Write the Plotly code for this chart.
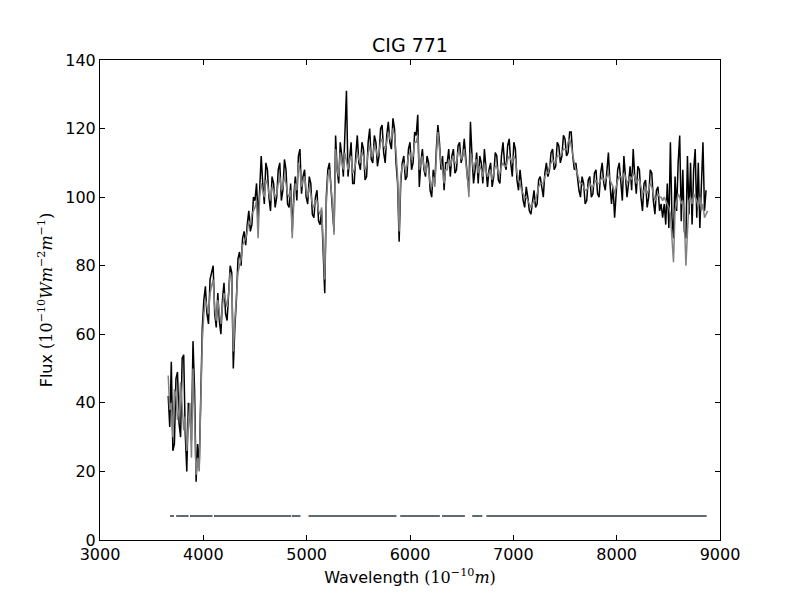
import plotly.graph_objects as go

# wavelength grid (Angstrom), 15 A steps
wavelength = [
    3660, 3675, 3690, 3705, 3720, 3735, 3750, 3765, 3780, 3795, 3810, 3825, 3840, 3855, 3870, 3885, 3900, 3915, 3930, 3945,
    3960, 3975, 3990, 4005, 4020, 4035, 4050, 4065, 4080, 4095, 4110, 4125, 4140, 4155, 4170, 4185, 4200, 4215, 4230, 4245,
    4260, 4275, 4290, 4305, 4320, 4335, 4350, 4365, 4380, 4395, 4410, 4425, 4440, 4455, 4470, 4485, 4500, 4515, 4530, 4545,
    4560, 4575, 4590, 4605, 4620, 4635, 4650, 4665, 4680, 4695, 4710, 4725, 4740, 4755, 4770, 4785, 4800, 4815, 4830, 4845,
    4860, 4875, 4890, 4905, 4920, 4935, 4950, 4965, 4980, 4995, 5010, 5025, 5040, 5055, 5070, 5085, 5100, 5115, 5130, 5145,
    5160, 5175, 5190, 5205, 5220, 5235, 5250, 5265, 5280, 5295, 5310, 5325, 5340, 5355, 5370, 5385, 5400, 5415, 5430, 5445,
    5460, 5475, 5490, 5505, 5520, 5535, 5550, 5565, 5580, 5595, 5610, 5625, 5640, 5655, 5670, 5685, 5700, 5715, 5730, 5745,
    5760, 5775, 5790, 5805, 5820, 5835, 5850, 5865, 5880, 5895, 5910, 5925, 5940, 5955, 5970, 5985, 6000, 6015, 6030, 6045,
    6060, 6075, 6090, 6105, 6120, 6135, 6150, 6165, 6180, 6195, 6210, 6225, 6240, 6255, 6270, 6285, 6300, 6315, 6330, 6345,
    6360, 6375, 6390, 6405, 6420, 6435, 6450, 6465, 6480, 6495, 6510, 6525, 6540, 6555, 6570, 6585, 6600, 6615, 6630, 6645,
    6660, 6675, 6690, 6705, 6720, 6735, 6750, 6765, 6780, 6795, 6810, 6825, 6840, 6855, 6870, 6885, 6900, 6915, 6930, 6945,
    6960, 6975, 6990, 7005, 7020, 7035, 7050, 7065, 7080, 7095, 7110, 7125, 7140, 7155, 7170, 7185, 7200, 7215, 7230, 7245,
    7260, 7275, 7290, 7305, 7320, 7335, 7350, 7365, 7380, 7395, 7410, 7425, 7440, 7455, 7470, 7485, 7500, 7515, 7530, 7545,
    7560, 7575, 7590, 7605, 7620, 7635, 7650, 7665, 7680, 7695, 7710, 7725, 7740, 7755, 7770, 7785, 7800, 7815, 7830, 7845,
    7860, 7875, 7890, 7905, 7920, 7935, 7950, 7965, 7980, 7995, 8010, 8025, 8040, 8055, 8070, 8085, 8100, 8115, 8130, 8145,
    8160, 8175, 8190, 8205, 8220, 8235, 8250, 8265, 8280, 8295, 8310, 8325, 8340, 8355, 8370, 8385, 8400, 8415, 8430, 8445,
    8460, 8475, 8490, 8505, 8520, 8535, 8550, 8565, 8580, 8595, 8610, 8625, 8640, 8655, 8670, 8685, 8700, 8715, 8730, 8745,
    8760, 8775, 8790, 8805, 8820, 8835, 8850, 8865, 8880,
]

# observed spectrum (black)
flux_obs = [
    42, 33, 52, 26, 28, 47, 49, 34, 30, 53, 54, 31, 20, 40, 36, 29, 58, 44, 17, 28,
    21, 45, 62, 70, 74, 66, 63, 76, 78, 80, 66, 62, 72, 64, 60, 70, 75, 66, 64, 74,
    80, 78, 50, 62, 70, 82, 84, 80, 88, 90, 86, 92, 96, 90, 92, 100, 99, 104, 94, 102,
    112, 104, 98, 110, 108, 100, 96, 106, 104, 97, 100, 108, 110, 99, 102, 111, 108, 98, 97, 104,
    90, 100, 106, 99, 112, 114, 101, 106, 108, 100, 98, 106, 104, 95, 94, 100, 102, 93, 92, 96,
    86, 72, 100, 108, 110, 102, 96, 90, 118, 108, 104, 116, 112, 106, 120, 131, 106, 112, 116, 104,
    104, 112, 118, 110, 108, 116, 114, 105, 106, 116, 120, 111, 110, 118, 116, 109, 112, 120, 121, 113,
    110, 118, 122, 116, 114, 123, 120, 110, 104, 87, 104, 110, 112, 105, 106, 114, 116, 108, 110, 119,
    118, 124, 103, 110, 114, 108, 106, 112, 110, 102, 100, 108, 104, 114, 121, 116, 108, 112, 102, 110,
    110, 114, 106, 112, 114, 107, 108, 115, 116, 110, 112, 117, 110, 106, 102, 122, 112, 104, 108, 113,
    104, 112, 110, 104, 114, 109, 103, 108, 110, 103, 106, 113, 112, 105, 104, 112, 116, 110, 108, 115,
    117, 110, 106, 116, 114, 105, 102, 108, 104, 99, 97, 103, 100, 96, 95, 99, 102, 97, 98, 105,
    106, 103, 100, 107, 110, 106, 108, 113, 114, 108, 109, 116, 115, 110, 112, 118, 117, 112, 113, 119,
    119, 112, 108, 110, 106, 102, 100, 106, 104, 98, 99, 105, 106, 100, 101, 107, 108, 101, 100, 107,
    110, 104, 102, 108, 113, 104, 98, 103, 94, 101, 108, 110, 104, 99, 112, 106, 100, 104, 109, 102,
    114, 106, 101, 109, 108, 100, 96, 104, 105, 97, 100, 108, 107, 99, 95, 102, 103, 96, 98, 94,
    98, 92, 104, 91, 116, 94, 88, 106, 96, 110, 118, 93, 108, 90, 88, 112, 95, 110, 92, 108,
    114, 94, 110, 91, 104, 116, 96, 102, None,
]

# model fit (grey)
flux_fit = [
    48, 38, 40, 30, 44, 42, 35, 38, 46, 40, 32, 36, 26, 34, 40, 24, 50, 36, 19, 24,
    20, 40, 58, 66, 70, 68, 66, 72, 74, 76, 68, 64, 70, 66, 63, 68, 72, 70, 68, 72,
    78, 76, 55, 64, 72, 78, 80, 82, 86, 87, 88, 90, 93, 92, 95, 96, 97, 99, 88, 100,
    104, 102, 100, 105, 104, 101, 99, 103, 102, 100, 101, 104, 106, 102, 103, 106, 104, 101, 100, 102,
    88, 98, 104, 102, 110, 108, 103, 105, 106, 102, 100, 103, 101, 98, 97, 99, 99, 96, 95, 97,
    88, 76, 98, 106, 108, 103, 98, 89, 114, 108, 106, 113, 110, 108, 113, 110, 108, 111, 112, 107,
    108, 110, 113, 111, 110, 113, 112, 108, 109, 113, 115, 112, 112, 115, 114, 112, 113, 116, 117, 115,
    114, 116, 119, 117, 117, 120, 118, 113, 106, 90, 106, 109, 110, 108, 109, 112, 113, 111, 112, 116,
    116, 118, 108, 110, 112, 109, 107, 110, 108, 104, 103, 106, 103, 112, 119, 114, 110, 108, 104, 108,
    108, 111, 109, 111, 112, 110, 110, 113, 113, 111, 112, 114, 110, 106, 100, 113, 111, 108, 110, 111,
    107, 109, 108, 106, 110, 108, 106, 107, 108, 105, 107, 109, 109, 107, 107, 109, 110, 109, 109, 111,
    112, 111, 110, 112, 111, 107, 105, 104, 102, 101, 100, 100, 99, 98, 97, 98, 99, 99, 101, 103,
    104, 104, 104, 106, 107, 107, 109, 110, 111, 110, 110, 112, 112, 112, 113, 114, 114, 114, 116, 117,
    115, 112, 110, 108, 107, 105, 104, 104, 103, 102, 102, 103, 104, 103, 103, 104, 105, 104, 104, 105,
    106, 105, 105, 106, 107, 105, 104, 103, 101, 103, 105, 106, 106, 105, 107, 106, 104, 105, 106, 105,
    107, 106, 104, 105, 105, 103, 101, 102, 103, 101, 102, 104, 103, 101, 99, 100, 101, 100, 100, 99,
    100, 99, 98, 97, 95, 86, 81, 96, 99, 101, 100, 98, 99, 94, 80, 92, 99, 100, 98, 101,
    100, 99, 97, 100, 96, 98, 94, 95, 96,
]

# fitted wavelength windows, drawn as a flat line near the bottom
mask_start = [3677, 3737, 3871, 4103, 4856, 5018, 5905, 6310, 6602, 6739]
mask_end = [3716, 3857, 4089, 4849, 4940, 5869, 6289, 6531, 6700, 8871]
mask_level = 7

mask_x, mask_y = [], []
for a, b in zip(mask_start, mask_end):
    mask_x += [a, b, None]
    mask_y += [mask_level, mask_level, None]

fig = go.Figure()
fig.add_trace(go.Scatter(x=wavelength, y=flux_obs, mode="lines",
                         line=dict(color="black", width=1.5)))
fig.add_trace(go.Scatter(x=wavelength, y=flux_fit, mode="lines",
                         line=dict(color="#808080", width=1.5)))
fig.add_trace(go.Scatter(x=mask_x, y=mask_y, mode="lines",
                         line=dict(color="#5f6b72", width=2)))

axis_style = dict(
    showline=True, linecolor="black", linewidth=1, mirror="ticks",
    ticks="inside", ticklen=5, tickcolor="black", showgrid=False,
    zeroline=False, tickfont=dict(size=16, color="black"),
)
fig.update_xaxes(range=[3000, 9000], dtick=1000, **axis_style,
                 title=dict(text="Wavelength <span style='font-family:DejaVu Serif'>(10<sup>−10</sup><i>m</i>)</span>",
                            font=dict(size=16, color="black"), standoff=8))
fig.update_yaxes(range=[0, 140], dtick=20, **axis_style,
                 title=dict(text="Flux <span style='font-family:DejaVu Serif'>(10<sup>−10</sup><i>Wm</i><sup>−2</sup><i>m</i><sup>−1</sup>)</span>",
                            font=dict(size=16, color="black"), standoff=8))
# the page adds an 8 px body margin, so the plot box is nudged up/left
fig.update_layout(
    width=800, height=600,
    margin=dict(l=92, r=88, t=52, b=68),
    paper_bgcolor="white", plot_bgcolor="white",
    font=dict(family="DejaVu Sans", color="black"),
    showlegend=False,
    title=dict(text="CIG 771", x=0.5, xref="paper", xanchor="center",
               y=0.937, yanchor="middle", font=dict(size=19, color="black")),
)

fig.write_html("out.html")
